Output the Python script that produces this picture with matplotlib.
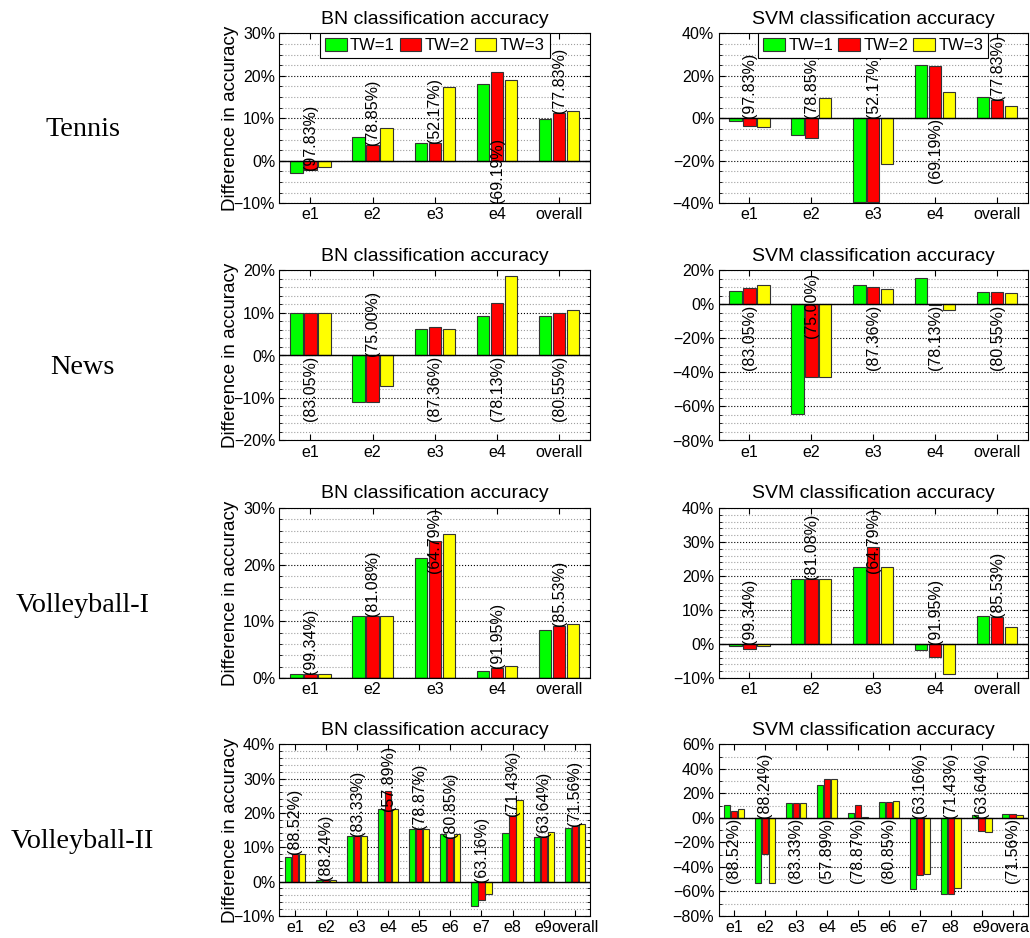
import numpy as np
import matplotlib
matplotlib.use('Agg')
from matplotlib import pyplot as plt
from matplotlib.ticker import MultipleLocator, FuncFormatter

plt.rc('font', family='Liberation Sans')

groups5 = ['e1', 'e2', 'e3', 'e4', 'overall']
groups10 = ['e1', 'e2', 'e3', 'e4', 'e5', 'e6', 'e7', 'e8', 'e9', 'overall']
tws = ['TW=1', 'TW=2', 'TW=3']
datasets = ['Tennis', 'News', 'Volleyball-I', 'Volleyball-II']

# base accuracy written next to each group
tennis_acc = [97.83, 78.85, 52.17, 69.19, 77.83]
news_acc = [83.05, 75.00, 87.36, 78.13, 80.55]
vb1_acc = [99.34, 81.08, 64.79, 91.95, 85.53]
vb2_acc = [88.52, 88.24, 83.33, 57.89, 78.87, 80.85, 63.16, 71.43, 63.64, 71.56]

# difference in accuracy (%), one row per TW
tennis_bn = [[-2.9, 5.7, 4.3, 18.0, 9.9],
             [-2.2, 3.8, 4.3, 20.9, 11.3],
             [-1.4, 7.7, 17.3, 19.0, 11.8]]
tennis_svm = [[-1.4, -7.7, -39.4, 25.3, 9.8],
              [-3.8, -9.5, -39.4, 24.8, 8.8],
              [-4.2, 9.7, -21.7, 12.5, 5.6]]
news_bn = [[10.1, -10.9, 6.2, 9.3, 9.4],
           [10.1, -10.9, 6.8, 12.4, 10.1],
           [10.1, -7.2, 6.2, 18.7, 10.8]]
news_svm = [[8.2, -64.2, 11.5, 15.6, 7.6],
            [9.9, -42.8, 10.3, -0.3, 7.6],
            [11.7, -42.8, 8.9, -3.3, 7.0]]
vb1_bn = [[0.7, 10.9, 21.2, 1.3, 8.5],
          [0.7, 10.9, 24.1, 1.7, 9.1],
          [0.7, 10.9, 25.5, 2.1, 9.5]]
vb1_svm = [[-0.7, 19.1, 22.7, -1.8, 8.1],
           [-1.4, 19.1, 28.6, -3.9, 7.8],
           [-0.7, 19.1, 22.7, -8.9, 4.9]]
vb2_bn = [[7.2, 0.5, 13.2, 21.0, 15.4, 13.8, -7.1, 14.2, 12.9, 15.7],
          [8.1, 0.5, 13.2, 26.3, 15.4, 12.8, -5.3, 19.0, 12.9, 16.3],
          [8.1, 0.5, 13.2, 21.0, 15.4, 13.8, -3.6, 23.7, 14.4, 16.8]]
vb2_svm = [[10.6, -53.1, 11.7, 26.7, 4.1, 12.8, -58.0, -62.1, 2.5, 3.0],
           [5.7, -29.4, 11.7, 31.9, 10.1, 12.8, -47.1, -62.1, -10.4, 3.0],
           [7.4, -53.1, 11.7, 31.9, 0.5, 13.6, -45.8, -57.5, -11.2, 1.9]]

# layout: where each accuracy text sits (y, 'b' = starts there going up, 't' = ends there)
lab_tennis_bn = [(-2.2, 'b'), (3.8, 'b'), (4.3, 'b'), (-10, 'b'), (11.3, 'b')]
lab_tennis_svm = [(0, 'b'), (0, 'b'), (0, 'b'), (0, 't'), (8.8, 'b')]
lab_news_bn = [(0, 't'), (0, 'b'), (0, 't'), (0, 't'), (0, 't')]
lab_news_svm = [(0, 't'), (-19.5, 'b'), (0, 't'), (0, 't'), (0, 't')]
lab_vb1_bn = [(0.7, 'b'), (10.9, 'b'), (30, 't'), (1.7, 'b'), (9.1, 'b')]
lab_vb1_svm = [(0, 'b'), (19.1, 'b'), (40, 't'), (0, 'b'), (7.8, 'b')]
lab_vb2_bn = [(8.1, 'b'), (0.5, 'b'), (13.2, 'b'), (39.5, 't'), (15.4, 'b'),
              (12.8, 'b'), (0, 'b'), (19.0, 'b'), (12.9, 'b'), (16.3, 'b')]
lab_vb2_svm = [(0, 't'), (0, 'b'), (0, 't'), (0, 't'), (0, 't'),
               (0, 't'), (0, 'b'), (0, 'b'), (0, 'b'), (0, 't')]

colors = ['#00ff00', '#ff0000', '#ffff00']
offsets = [-0.225, 0.0, 0.225]

W, H = 1030, 938
fig = plt.figure(figsize=(W / 100, H / 100), dpi=100)

col_left = [279.3, 718.5]
col_width = [311.0, 309.5]
row_top = [33.3, 270.5, 508.0, 744.3]
row_h = [170.0, 170.0, 170.0, 171.5]

pct = FuncFormatter(lambda v, p: ('%d%%' % round(v)).replace('-', '\u2212'))


def panel(r, c, vals, acc, groups, ylim, major, minor, labs, title, legend=False):
    ax = fig.add_axes([col_left[c] / W, 1 - (row_top[r] + row_h[r]) / H,
                       col_width[c] / W, row_h[r] / H])
    n = len(groups)
    x = np.arange(1, n + 1)
    for k in range(3):
        ax.bar(x + offsets[k], vals[k], width=0.2, color=colors[k],
               edgecolor='#333333', linewidth=0.8, label=tws[k], zorder=2)
    ax.axhline(0, color='k', lw=1.0, zorder=3)
    for i in range(n):
        y, side = labs[i]
        ax.text(x[i], y, '(%.2f%%)' % acc[i], rotation=90, ha='center',
                va='bottom' if side == 'b' else 'top', fontsize=11.5, zorder=4)
    ax.set_xlim(0.5, n + 0.5)
    ax.set_ylim(*ylim)
    ax.set_xticks(x)
    ax.set_xticklabels(groups)
    ax.yaxis.set_major_locator(MultipleLocator(major))
    ax.yaxis.set_minor_locator(MultipleLocator(minor))
    ax.yaxis.set_major_formatter(pct)
    ax.yaxis.grid(True, which='major', ls=':', color='black', lw=0.8)
    ax.yaxis.grid(True, which='minor', ls=':', color='#a0a0a0', lw=0.8)
    ax.set_axisbelow(True)
    ax.tick_params(which='major', direction='in', top=True, right=True,
                   length=4, labelsize=11.5, pad=3)
    ax.tick_params(which='minor', direction='in', left=True, right=True,
                   length=2)
    ax.tick_params(axis='x', which='minor', bottom=False, top=False)
    for s in ax.spines.values():
        s.set_linewidth(0.8)
    ax.set_title(title, fontsize=14, pad=7)
    if c == 0:
        ax.set_ylabel('Difference in accuracy', fontsize=13.5)
        ax.yaxis.set_label_coords(-0.13, 0.5)
    if legend:
        leg = ax.legend(loc='upper center', ncol=3, fontsize=12, borderaxespad=0,
                        fancybox=False, edgecolor='black', framealpha=1,
                        handlelength=1.3, handleheight=0.8, columnspacing=0.3,
                        handletextpad=0.2, borderpad=0.3)
        leg.get_frame().set_linewidth(0.8)
        leg.set_zorder(5)
    return ax


panel(0, 0, tennis_bn, tennis_acc, groups5, (-10, 30), 10, 2.5, lab_tennis_bn,
      'BN classification accuracy', legend=True)
panel(0, 1, tennis_svm, tennis_acc, groups5, (-40, 40), 20, 5, lab_tennis_svm,
      'SVM classification accuracy', legend=True)
panel(1, 0, news_bn, news_acc, groups5, (-20, 20), 10, 2, lab_news_bn,
      'BN classification accuracy')
panel(1, 1, news_svm, news_acc, groups5, (-80, 20), 20, 5, lab_news_svm,
      'SVM classification accuracy')
panel(2, 0, vb1_bn, vb1_acc, groups5, (0, 30), 10, 2, lab_vb1_bn,
      'BN classification accuracy')
panel(2, 1, vb1_svm, vb1_acc, groups5, (-10, 40), 10, 2, lab_vb1_svm,
      'SVM classification accuracy')
panel(3, 0, vb2_bn, vb2_acc, groups10, (-10, 40), 10, 2, lab_vb2_bn,
      'BN classification accuracy')
panel(3, 1, vb2_svm, vb2_acc, groups10, (-80, 60), 20, 10, lab_vb2_svm,
      'SVM classification accuracy')

baselines = [135.7, 374.0, 611.7, 848.3]
for name, b in zip(datasets, baselines):
    fig.text(82.5 / W, 1 - b / H, name, ha='center', va='baseline',
             family='Liberation Serif', fontsize=20.3)

plt.savefig('out.png', dpi=100)
